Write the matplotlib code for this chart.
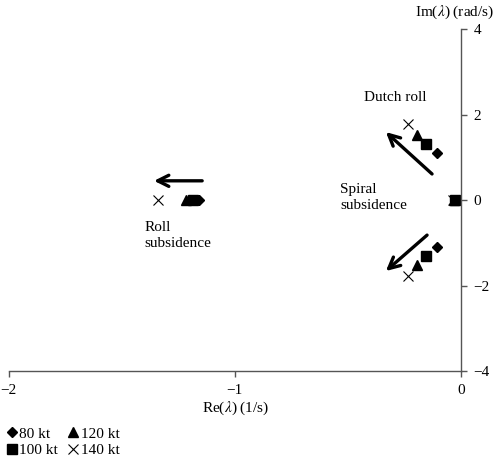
import matplotlib
matplotlib.use("Agg")
import matplotlib.pyplot as plt
from matplotlib.lines import Line2D

plt.rcParams['font.family'] = ['Liberation Serif', 'DejaVu Serif']
plt.rcParams['mathtext.fontset'] = 'stix'

speeds = ["80 kt", "100 kt", "120 kt", "140 kt"]
markers = ["D", "s", "^", "x"]
msizes = [5.5, 6.5, 6.5, 7]

# eigenvalues per speed
dutch_re = [-0.106, -0.153, -0.195, -0.235]
dutch_im = [1.09, 1.30, 1.53, 1.77]
roll_re = [-1.16, -1.185, -1.215, -1.34]
roll_im = [0.0, 0.0, 0.0, 0.0]
spiral_re = [-0.02, -0.025, -0.03, -0.035]
spiral_im = [0.0, 0.0, 0.0, 0.0]

fig = plt.figure(figsize=(5.0, 4.57), dpi=100)
ax = fig.add_axes([0.017, 0.188, 0.905, 0.7485])

handles = []
for i in range(4):
    kw = dict(color='black', linestyle='none', marker=markers[i], markersize=msizes[i])
    if markers[i] == 'x':
        kw['markeredgewidth'] = 0.8
    ax.plot([dutch_re[i], dutch_re[i], roll_re[i], spiral_re[i]],
            [dutch_im[i], -dutch_im[i], roll_im[i], spiral_im[i]], **kw)
    handles.append(Line2D([], [], label=speeds[i], **kw))

arrow_kw = dict(arrowstyle='->,head_length=0.8,head_width=0.4', color='black', lw=2.4,
                shrinkA=0, shrinkB=0)
ax.annotate('', xy=(-1.357, 0.45), xytext=(-1.144, 0.45), arrowprops=arrow_kw)
ax.annotate('', xy=(-0.332, 1.59), xytext=(-0.128, 0.61), arrowprops=arrow_kw)
ax.annotate('', xy=(-0.332, -1.66), xytext=(-0.150, -0.82), arrowprops=arrow_kw)

ax.text(-0.292, 2.39, 'Dutch roll', ha='center', va='center', fontsize=11)
ax.text(-0.535, 0.05, 'Spiral\nsubsidence', ha='left', va='center', fontsize=11,
        linespacing=1.3)
ax.text(-1.398, -0.82, 'Roll\nsubsidence', ha='left', va='center', fontsize=11,
        linespacing=1.3)

ax.set_xlim(-2, 0)
ax.set_ylim(-4, 4)
ax.set_xticks([-2, -1, 0])
ax.set_xticklabels(['\u22122', '\u22121', '0'])
ax.set_yticks([-4, -2, 0, 2, 4])
ax.set_yticklabels(['\u22124', '\u22122', '0', '2', '4'])
for s in ['top', 'left']:
    ax.spines[s].set_visible(False)
ax.spines['right'].set_position(('data', 0))
for s in ['right', 'bottom']:
    ax.spines[s].set_color('#555555')
    ax.spines[s].set_linewidth(1.0)
ax.yaxis.tick_right()
ax.tick_params(axis='both', direction='out', length=4, width=1.0, color='#555555',
               labelsize=11, pad=5)

fig.text(0.472, 0.107, r'Re($\lambda$) (1/s)', ha='center', va='center', fontsize=11)
fig.text(0.91, 0.974, r'Im($\lambda$) (rad/s)', ha='center', va='center', fontsize=11)

fig.legend(handles=handles, ncol=2, loc='lower left', bbox_to_anchor=(-0.01, -0.024),
           frameon=False, fontsize=11, handlelength=0.8, handletextpad=0.1,
           columnspacing=0.6, labelspacing=0.2, borderpad=0.2)

fig.savefig('out.png', dpi=100)
